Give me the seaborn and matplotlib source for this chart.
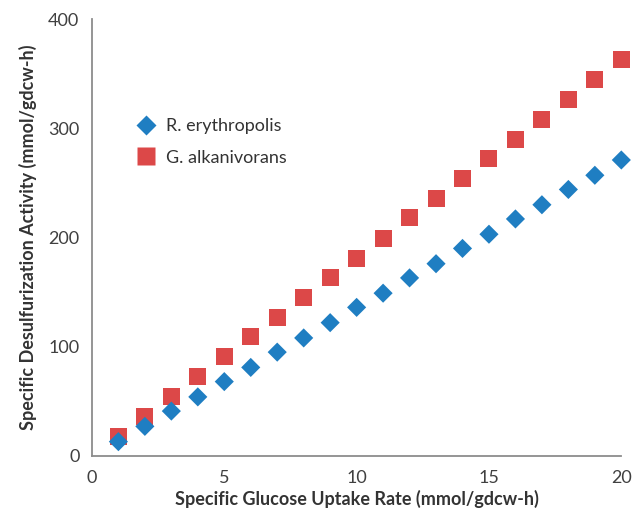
import matplotlib
matplotlib.use('Agg')
import matplotlib.pyplot as plt
import seaborn as sns
import pandas as pd

# data
rate = list(range(1, 21))
r_eryth = [13, 27, 41, 54, 68, 81, 95, 108, 122, 136,
           149, 163, 176, 190, 203, 217, 230, 244, 257, 271]
g_alkan = [18, 36, 54, 73, 91, 109, 127, 145, 163, 181,
           199, 218, 236, 254, 272, 290, 308, 326, 345, 363]
strains = ['R. erythropolis', 'G. alkanivorans']

df = pd.concat([
    pd.DataFrame({'x': rate, 'y': r_eryth, 'strain': strains[0]}),
    pd.DataFrame({'x': rate, 'y': g_alkan, 'strain': strains[1]}),
])

sns.set_style('white')
plt.rcParams['font.family'] = ['Lato', 'DejaVu Sans']

fig = plt.figure(figsize=(6.34, 5.18), dpi=100)
ax = fig.add_axes([0.145, 0.12, 0.835, 0.843])

pal = {strains[0]: '#1f7ec2', strains[1]: '#dc4848'}
sns.scatterplot(data=df[df.strain == strains[0]], x='x', y='y', hue='strain', palette=pal,
                marker='D', s=95, edgecolor='none', ax=ax, zorder=3, clip_on=False)
sns.scatterplot(data=df[df.strain == strains[1]], x='x', y='y', hue='strain', palette=pal,
                marker='s', s=150, edgecolor='none', ax=ax, zorder=2, clip_on=False)

ax.set_xlim(0, 20)
ax.set_ylim(0, 400)
ax.set_xticks([0, 5, 10, 15, 20])
ax.set_yticks([0, 100, 200, 300, 400])
sns.despine(ax=ax)
for s in ['left', 'bottom']:
    ax.spines[s].set_color('#8c8c8c')
    ax.spines[s].set_linewidth(1.3)
ax.tick_params(axis='both', direction='out', length=6, width=1.3, color='#8c8c8c',
               labelsize=13, labelcolor='#404040', pad=3)
ax.tick_params(axis='x', pad=4)

ax.set_xlabel('Specific Glucose Uptake Rate (mmol/gdcw-h)', fontsize=13,
              fontweight='bold', color='#333333', labelpad=3)
ax.set_ylabel('Specific Desulfurization Activity (mmol/gdcw-h)', fontsize=13,
              fontweight='bold', color='#333333', labelpad=8)

ax.legend(loc='upper left', bbox_to_anchor=(0.055, 0.81), frameon=False,
          fontsize=13, handlelength=1.0, handletextpad=0.6, labelspacing=0.85,
          markerscale=1.0, labelcolor='#333333')

plt.savefig('out.png', dpi=100)
